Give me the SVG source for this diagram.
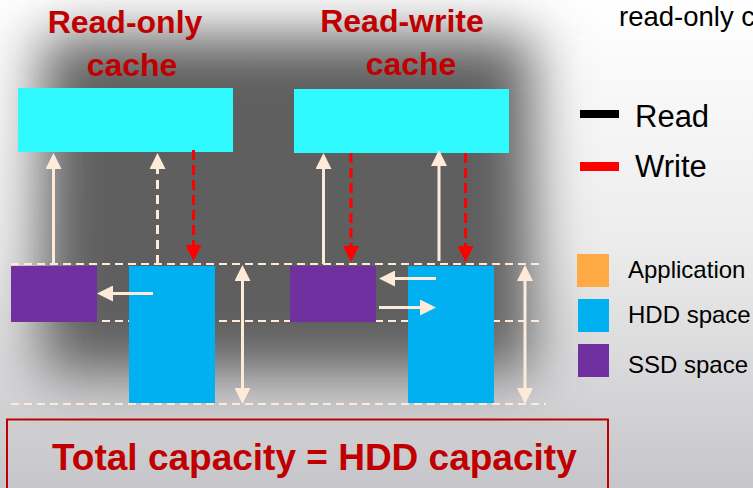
<svg xmlns="http://www.w3.org/2000/svg" width="753" height="488" viewBox="0 0 753 488">
<defs>
<linearGradient id="bg" x1="0" y1="0" x2="0" y2="1">
<stop offset="0" stop-color="#ffffff"/>
<stop offset="0.5" stop-color="#ececec"/>
<stop offset="1" stop-color="#c6c6ca"/>
</linearGradient>
<filter id="blur" x="-40%" y="-40%" width="180%" height="180%">
<feGaussianBlur stdDeviation="28"/>
</filter>
<marker id="ah" markerUnits="userSpaceOnUse" markerWidth="16" markerHeight="16" refX="13" refY="8" orient="auto-start-reverse" viewBox="0 0 16 16">
<path d="M0,0 L16,8 L0,16 z" fill="#fdead8"/>
</marker>
<marker id="rh" markerUnits="userSpaceOnUse" markerWidth="16" markerHeight="16" refX="13" refY="8" orient="auto" viewBox="0 0 16 16">
<path d="M0,0 L16,8 L0,16 z" fill="#ff0000"/>
</marker>
<style>
.title{font-family:"Liberation Sans",Arial,sans-serif;font-weight:bold;font-size:32px;fill:#c00000;text-anchor:middle}
.leg{font-family:"Liberation Sans",Arial,sans-serif;font-size:31px;fill:#000}
.lab{font-family:"Liberation Sans",Arial,sans-serif;font-size:24px;fill:#000}
.cache{fill:#2efaff}
.hdd{fill:#00b0f0}
.ssd{fill:#7030a0}
.guide{stroke:#fdead8;stroke-width:2;stroke-dasharray:8 5;fill:none}
.rd{stroke:#fdead8;stroke-width:3;fill:none;marker-end:url(#ah)}
.rdd{stroke:#fdead8;stroke-width:3;fill:none;stroke-dasharray:9 6;marker-end:url(#ah)}
.wr{stroke:#ff0000;stroke-width:3;fill:none;stroke-dasharray:10 5;marker-end:url(#rh)}
.dbl{stroke:#fdead8;stroke-width:3;fill:none;marker-start:url(#ah);marker-end:url(#ah)}
</style>
</defs>
<g id="background">
<rect x="0" y="0" width="753" height="488" fill="url(#bg)"/>
<rect x="42" y="36" width="490" height="338" fill="#5e5e5e" filter="url(#blur)"/>
</g>
<g id="guides">
<line class="guide" x1="11" y1="264" x2="540" y2="264"/>
<line class="guide" x1="11" y1="321" x2="540" y2="321"/>
<line class="guide" x1="11" y1="404" x2="546" y2="404"/>
</g>
<g id="titles">
<text class="title" x="125" y="33">Read-only</text>
<text class="title" x="132" y="76">cache</text>
<text class="title" x="402" y="32">Read-write</text>
<text class="title" x="411" y="75">cache</text>
</g>
<g id="ro-cache"><rect class="cache" x="18" y="88" width="215" height="64"/></g>
<g id="rw-cache"><rect class="cache" x="294" y="89" width="215" height="64"/></g>
<g id="ro-ssd"><rect class="ssd" x="11" y="266" width="86" height="56"/></g>
<g id="ro-hdd"><rect class="hdd" x="129" y="266" width="86" height="137"/></g>
<g id="rw-ssd"><rect class="ssd" x="290" y="266" width="86" height="56"/></g>
<g id="rw-hdd"><rect class="hdd" x="408" y="266" width="86" height="137"/></g>
<g id="connectors">
<line class="rd" x1="53.5" y1="264" x2="53.5" y2="156"/>
<line class="rdd" x1="157.5" y1="264" x2="157.5" y2="156"/>
<line class="wr" x1="193.5" y1="150" x2="193.5" y2="258"/>
<line class="rd" x1="153" y1="293.5" x2="100" y2="293.5"/>
<line class="dbl" x1="242.5" y1="268" x2="242.5" y2="401"/>
<line class="rd" x1="323.5" y1="264" x2="323.5" y2="156"/>
<line class="wr" x1="351" y1="153" x2="351" y2="259"/>
<line class="rd" x1="439" y1="261" x2="439" y2="153"/>
<line class="wr" x1="465.5" y1="153" x2="465.5" y2="259"/>
<line class="rd" x1="436" y1="278.5" x2="382" y2="278.5"/>
<line class="rd" x1="379" y1="307.5" x2="433" y2="307.5"/>
<line class="dbl" x1="525" y1="268" x2="525" y2="401"/>
</g>
<g id="legend">
<text x="619" y="26" font-family="Liberation Sans, Arial, sans-serif" font-size="27.5" fill="#000">read-only c</text>
<rect x="580" y="110" width="39" height="8" fill="#000"/>
<text class="leg" x="635" y="127">Read</text>
<rect x="580" y="162" width="39" height="9" fill="#ff0000"/>
<text class="leg" x="635" y="177">Write</text>
<rect x="577" y="254" width="32" height="33" fill="#ffaa44"/>
<text class="lab" x="628" y="278">Application</text>
<rect x="578" y="299" width="31" height="33" class="hdd"/>
<text class="lab" x="628" y="323">HDD space</text>
<rect x="578" y="344" width="31" height="33" class="ssd"/>
<text class="lab" x="628" y="373">SSD space</text>
</g>
<g id="total">
<rect x="7" y="419.5" width="601" height="80" fill="none" stroke="#c00000" stroke-width="2"/>
<text x="52" y="470" font-family="Liberation Sans, Arial, sans-serif" font-weight="bold" font-size="37" fill="#c00000">Total capacity = HDD capacity</text>
</g>
</svg>
